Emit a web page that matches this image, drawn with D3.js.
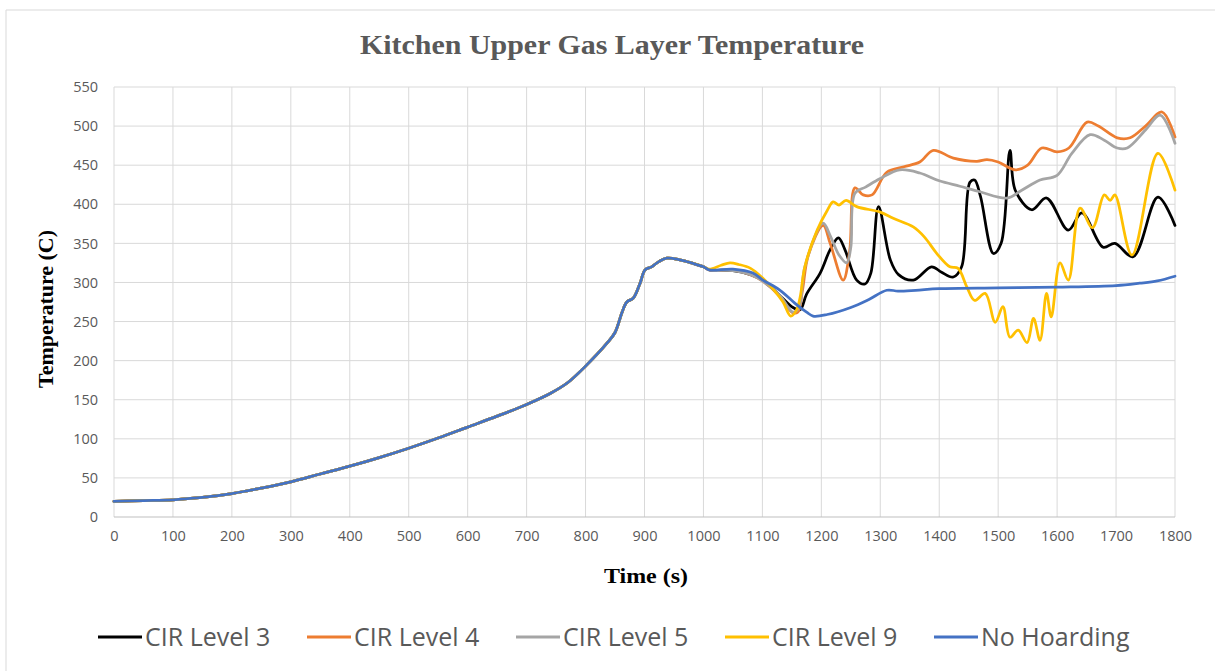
<!DOCTYPE html>
<html>
<head>
<meta charset="utf-8">
<script src="https://cdn.jsdelivr.net/npm/d3@7"></script>
<style>
  body { margin: 0; background: #fff; }
  svg { display: block; }
</style>
</head>
<body>
<div id="chart"></div>
<script>
// shared part of the curve, every run is identical up to ~1000 s
var early = [[0,20],[50,21],[100,22],[150,25],[200,30],[250,37],[300,45],[350,55],[400,65],[450,76],
  [500,88],[550,101],[600,115],[650,129],[700,144],[740,158],[770,172],[800,193],[836,222],[850,236],
  [862,262],[870,275],[881,280],[892,298],[901,316],[912,320],[925,327],[938,331],[960,329],[980,325],[1000,320]]

var cir3 = [[1010,316],[1050,315],[1080,310],[1100,303],[1130,283],[1152,268],[1164,265],[1175,285],[1198,312],
  [1215,342],[1229,357],[1240,342],[1260,303],[1274,298],[1284,312],[1297,397],[1317,329],[1331,310],[1356,303],
  [1387,320],[1404,313],[1424,307],[1438,320],[1452,428],[1460,431],[1470,410],[1492,337],[1505,350],[1520,469],
  [1529,418],[1557,393],[1582,408],[1619,367],[1642,389],[1678,345],[1698,350],[1729,333],[1771,409],[1800,373]]

var cir4 = [[1010,316],[1050,316],[1080,310],[1100,302],[1130,282],[1150,262],[1160,262],[1168,290],[1178,335],
  [1203,373],[1215,350],[1237,303],[1248,340],[1257,421],[1271,412],[1286,412],[1311,441],[1340,448],[1367,454],
  [1390,469],[1424,459],[1464,455],[1481,457],[1500,454],[1529,444],[1550,450],[1574,472],[1600,467],[1620,472],
  [1651,505],[1670,500],[1702,485],[1724,485],[1750,500],[1778,518],[1800,486]]

var cir5 = [[1010,316],[1050,315],[1080,310],[1100,302],[1130,283],[1152,262],[1162,268],[1172,320],[1203,376],
  [1215,360],[1230,335],[1243,325],[1250,345],[1257,414],[1275,422],[1300,433],[1333,444],[1367,440],[1400,430],
  [1435,423],[1469,416],[1515,408],[1540,418],[1571,431],[1600,437],[1625,465],[1656,489],[1680,482],[1702,472],
  [1719,472],[1750,495],[1775,514],[1800,478]]

var cir9 = [[1010,317],[1030,322],[1045,325],[1060,323],[1080,318],[1100,306],[1120,290],[1135,275],[1148,257],
  [1158,265],[1164,281],[1172,320],[1193,367],[1210,392],[1220,403],[1230,399],[1242,405],[1260,397],[1300,390],
  [1322,382],[1356,371],[1375,358],[1396,337],[1418,320],[1432,318],[1447,294],[1460,277],[1478,286],[1495,249],
  [1508,269],[1520,230],[1534,239],[1549,223],[1560,254],[1571,226],[1582,286],[1590,256],[1605,325],[1619,303],
  [1639,395],[1660,370],[1680,412],[1690,405],[1698,412],[1727,335],[1771,465],[1800,418]]

var noHoarding = [[1010,316],[1050,317],[1084,312],[1101,303],[1130,290],[1159,271],[1175,262],[1186,257],[1210,259],
  [1250,268],[1280,278],[1311,290],[1330,289],[1360,290],[1400,292],[1500,293],[1600,294],[1700,296],[1740,299],
  [1770,302],[1800,308]]

var seriesNames = ['CIR Level 3', 'CIR Level 4', 'CIR Level 5', 'CIR Level 9', 'No Hoarding']
var seriesColors = ['#000000', '#ED7D31', '#A5A5A5', '#FFC000', '#4472C4']
var seriesData = [cir3, cir4, cir5, cir9, noHoarding].map(function (s) { return early.concat(s) })

var xTicks = d3.range(0, 1801, 100)
var yTicks = d3.range(0, 551, 50)

var width = 1215, height = 671
var margin = { left: 114, right: 40, top: 87, bottom: 154 }

var svg = d3.select('#chart').append('svg')
  .attr('width', width)
  .attr('height', height)

// frame of the spreadsheet chart object
svg.append('line').attr('x1', 6).attr('x2', width).attr('y1', 10).attr('y2', 10)
  .attr('stroke', '#d9d9d9')
svg.append('line').attr('x1', 6).attr('x2', 6).attr('y1', 10).attr('y2', height)
  .attr('stroke', '#d9d9d9')

var x = d3.scaleLinear().domain([0, 1800]).range([margin.left, width - margin.right])
var y = d3.scaleLinear().domain([0, 550]).range([height - margin.bottom, margin.top])

// grid
svg.append('g').selectAll('line').data(xTicks).enter().append('line')
  .attr('x1', function (d) { return x(d) }).attr('x2', function (d) { return x(d) })
  .attr('y1', y(0)).attr('y2', y(550))
  .attr('stroke', '#d9d9d9').attr('stroke-width', 1)
svg.append('g').selectAll('line').data(yTicks).enter().append('line')
  .attr('x1', x(0)).attr('x2', x(1800))
  .attr('y1', function (d) { return y(d) }).attr('y2', function (d) { return y(d) })
  .attr('stroke', function (d) { return d == 0 ? '#bfbfbf' : '#d9d9d9' }).attr('stroke-width', 1)

// axes (labels only, Excel style)
svg.append('g')
  .attr('transform', 'translate(0,' + (y(0) + 8) + ')')
  .call(d3.axisBottom(x).tickValues(xTicks).tickFormat(d3.format('d')).tickSize(0).tickPadding(6))
svg.append('g')
  .attr('transform', 'translate(' + (x(0) - 10) + ',0)')
  .call(d3.axisLeft(y).tickValues(yTicks).tickFormat(d3.format('d')).tickSize(0).tickPadding(6))
svg.selectAll('.domain').remove()
svg.selectAll('.tick text')
  .attr('fill', '#595959')
  .style('font-family', '"Open Sans", sans-serif')
  .style('font-size', '14.5px')

// lines
var line = d3.line()
  .x(function (d) { return x(d[0]) })
  .y(function (d) { return y(d[1]) })
  .curve(d3.curveCatmullRom.alpha(0.5))

svg.append('g').selectAll('path').data(seriesData).enter().append('path')
  .attr('d', line)
  .attr('fill', 'none')
  .attr('stroke', function (d, i) { return seriesColors[i] })
  .attr('stroke-width', 2.75)
  .attr('stroke-linejoin', 'round')
  .attr('stroke-linecap', 'round')

// title and axis titles
svg.append('text')
  .attr('x', 612).attr('y', 54)
  .attr('text-anchor', 'middle')
  .attr('fill', '#595959')
  .attr('textLength', 504).attr('lengthAdjust', 'spacingAndGlyphs')
  .style('font-family', '"Liberation Serif", serif')
  .style('font-weight', 'bold')
  .style('font-size', '27px')
  .text('Kitchen Upper Gas Layer Temperature')

svg.append('text')
  .attr('x', 646).attr('y', 583)
  .attr('text-anchor', 'middle')
  .attr('fill', '#000')
  .attr('textLength', 84).attr('lengthAdjust', 'spacingAndGlyphs')
  .style('font-family', '"Liberation Serif", serif')
  .style('font-weight', 'bold')
  .style('font-size', '22px')
  .text('Time (s)')

svg.append('text')
  .attr('transform', 'translate(53,309) rotate(-90)')
  .attr('text-anchor', 'middle')
  .attr('fill', '#000')
  .attr('textLength', 158).attr('lengthAdjust', 'spacingAndGlyphs')
  .style('font-family', '"Liberation Serif", serif')
  .style('font-weight', 'bold')
  .style('font-size', '22px')
  .text('Temperature (C)')

// legend
var legend = svg.append('g').selectAll('g').data(seriesNames).enter().append('g')
  .attr('transform', function (d, i) { return 'translate(' + (98 + i * 209) + ',637)' })
legend.append('line')
  .attr('x1', 0).attr('x2', 44).attr('y1', 0).attr('y2', 0)
  .attr('stroke', function (d, i) { return seriesColors[i] })
  .attr('stroke-width', 3)
legend.append('text')
  .attr('x', 47).attr('y', 9)
  .attr('fill', '#595959')
  .style('font-family', '"Open Sans", sans-serif')
  .style('font-size', '25px')
  .text(function (d) { return d })
</script>
</body>
</html>
